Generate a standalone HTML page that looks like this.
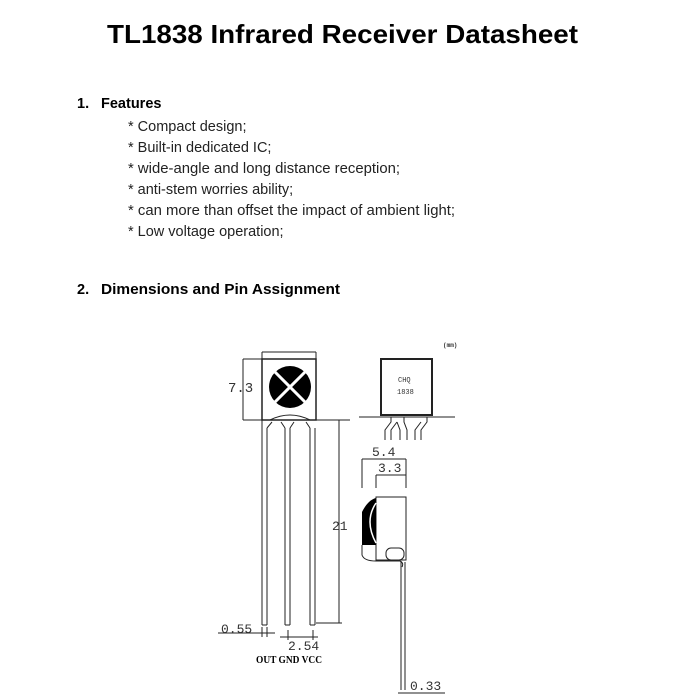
<!DOCTYPE html>
<html><head><style>body{margin:0;background:#fff}svg{display:block}</style></head><body>
<svg width="700" height="700" viewBox="0 0 700 700" xmlns="http://www.w3.org/2000/svg" font-family="Liberation Sans, Arial, sans-serif">
<text x="107" y="43" font-size="26" font-weight="bold" textLength="471" lengthAdjust="spacingAndGlyphs">TL1838 Infrared Receiver Datasheet</text>
<g font-size="14.5" font-weight="bold">
<text x="77" y="108">1.</text><text x="101" y="108">Features</text>
<text x="77" y="294">2.</text><text x="101" y="294" textLength="239" lengthAdjust="spacingAndGlyphs">Dimensions and Pin Assignment</text>
</g>
<g font-size="14.5" fill="#222">
<text x="128" y="131">* Compact design;</text>
<text x="128" y="152">* Built-in dedicated IC;</text>
<text x="128" y="173" textLength="272" lengthAdjust="spacingAndGlyphs">* wide-angle and long distance reception;</text>
<text x="128" y="194">* anti-stem worries ability;</text>
<text x="128" y="215" textLength="327" lengthAdjust="spacingAndGlyphs">* can more than offset the impact of ambient light;</text>
<text x="128" y="236">* Low voltage operation;</text>
</g>
<g stroke="#222" fill="none" stroke-width="1">
<rect x="262" y="359" width="54" height="61" stroke-width="1.5"/>
<line x1="262" y1="352" x2="316" y2="352"/><line x1="262" y1="352" x2="262" y2="359"/><line x1="316" y1="352" x2="316" y2="359"/>
<line x1="243" y1="359" x2="262" y2="359"/><line x1="243" y1="359" x2="243" y2="420"/>
<line x1="243" y1="420" x2="350" y2="420"/>
<line x1="339" y1="420" x2="339" y2="623"/><line x1="316" y1="623" x2="342" y2="623"/>
<path d="M262 420 v205 M267 428 v197 M262 625 h5"/>
<path d="M285 428 v197 M290 428 v197 M285 625 h5"/>
<path d="M310 428 v197 M315 428 v197 M310 625 h5"/>
<path d="M270 420 q20 -10 40 0"/>
<path d="M267 428 l5 -6 M285 428 l-4 -6 M290 428 l4 -6 M310 428 l-4 -6"/>
<line x1="218" y1="633" x2="275" y2="633"/><line x1="262" y1="627" x2="262" y2="637"/><line x1="267" y1="627" x2="267" y2="637"/>
<line x1="280" y1="637" x2="318" y2="637"/><line x1="288" y1="630" x2="288" y2="640"/><line x1="313" y1="630" x2="313" y2="640"/>
<rect x="381" y="359" width="51" height="56" stroke-width="2"/>
<line x1="359" y1="417" x2="455" y2="417"/>
<path d="M385 440 v-10 l6 -8 v-5 M391 440 v-10 l6 -8 M400 440 v-10 l-3 -8 M407 440 v-10 l-3 -8 v-5 M415 440 v-10 l6 -8 M421 440 v-10 l6 -8 v-5"/>
<line x1="362" y1="459" x2="406" y2="459"/><line x1="362" y1="459" x2="362" y2="488"/><line x1="406" y1="459" x2="406" y2="488"/>
<line x1="376" y1="475" x2="406" y2="475"/><line x1="376" y1="475" x2="376" y2="488"/>
<rect x="376" y="497" width="30" height="63"/>
<path d="M362 545 v10 q2 6 14 6 h24 q4 2 2 6"/>
<rect x="386" y="548" width="18" height="12" rx="5"/>
<path d="M401 562 v128 M405 562 v128"/>
<line x1="398" y1="693" x2="445" y2="693"/>
</g>
<circle cx="290" cy="387" r="21" fill="#000"/>
<path d="M275 372 L305 402 M305 372 L275 402" stroke="#fff" stroke-width="3"/>
<path d="M362 512 q6 -12 14 -14 v47 h-14 z" fill="#000"/>
<path d="M376 503 q-12 18 0 40" stroke="#fff" stroke-width="1.5" fill="none"/>
<g font-family="Liberation Mono, monospace" fill="#333">
<text x="228" y="392" font-size="14">7.3</text>
<text x="332" y="530" font-size="13">21</text>
<text x="221" y="633" font-size="13">0.55</text>
<text x="288" y="650" font-size="13">2.54</text>
<text x="372" y="456" font-size="13">5.4</text>
<text x="378" y="472" font-size="13">3.3</text>
<text x="410" y="690" font-size="13">0.33</text>
<text x="398" y="382" font-size="7">CHQ</text>
<text x="397" y="394" font-size="7">1838</text>
<text x="443" y="347" font-size="6" font-weight="bold">(mm)</text>
</g>
<text x="256" y="663" font-family="Liberation Serif, serif" font-weight="bold" font-size="10" textLength="66" lengthAdjust="spacingAndGlyphs">OUT GND VCC</text>
</svg>
</body></html>
